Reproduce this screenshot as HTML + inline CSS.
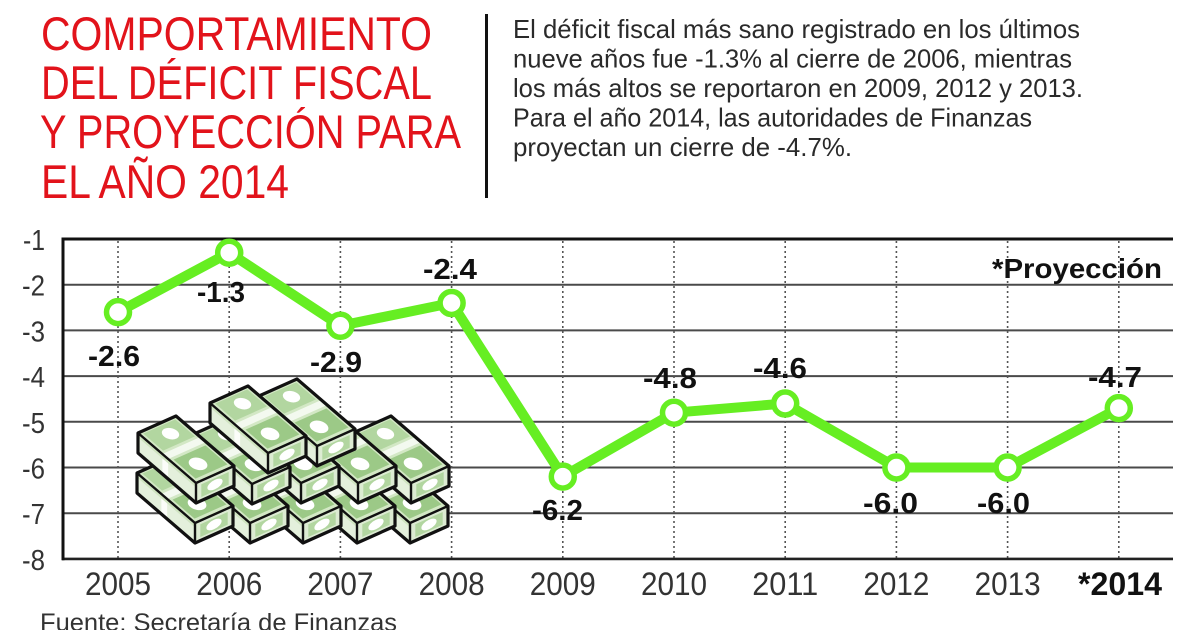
<!DOCTYPE html>
<html>
<head>
<meta charset="utf-8">
<style>
  html,body{margin:0;padding:0;background:#fff;}
  body{width:1200px;height:630px;overflow:hidden;}
  svg{display:block;}
  text{font-family:"Liberation Sans", sans-serif;}
</style>
</head>
<body>
<svg width="1200" height="630" viewBox="0 0 1200 630" xmlns="http://www.w3.org/2000/svg">
  <defs>
    <g id="b">
      <!-- top face: P0=(0,0), u=(38,-17), v=(58,50), h=20 -->
      <polygon points="0,0 38,-17 96,33 58,50" fill="#d3e8c5"/>
      <g transform="matrix(0.58 0.50 0.38 -0.17 0 0)">
        <rect x="4" y="8" width="34" height="84" fill="#b2d6a0"/>
        <ellipse cx="20" cy="55" rx="10" ry="17" fill="#ffffff"/>
        <rect x="42" y="0" width="10" height="100" fill="#f3f9ef"/>
        <rect x="56" y="8" width="38" height="84" fill="#9cc987"/>
        <ellipse cx="76" cy="42" rx="11" ry="18" fill="#ffffff"/>
      </g>
      <!-- front long face -->
      <polygon points="0,0 58,50 58,70 0,20" fill="#e4f0dc"/>
      <g transform="matrix(0.58 0.50 0 0.20 0 0)">
        <rect x="42" y="0" width="10" height="100" fill="#fbfdf9"/>
        <rect x="0" y="0" width="100" height="22" fill="#cfe4c0"/>
      </g>
      <!-- end face -->
      <polygon points="58,50 96,33 96,53 58,70" fill="#dcebd2"/>
      <g transform="matrix(0.38 -0.17 0 0.20 58 50)">
        <rect x="14" y="18" width="72" height="64" fill="#b2d6a0"/>
        <ellipse cx="50" cy="50" rx="20" ry="24" fill="#ffffff"/>
      </g>
      <!-- outlines -->
      <polygon points="0,0 38,-17 96,33 96,53 58,70 0,20" fill="none" stroke="#111" stroke-width="3.2" stroke-linejoin="round"/>
      <polyline points="0,0 58,50 96,33" fill="none" stroke="#111" stroke-width="2.4" stroke-linejoin="round"/>
      <line x1="58" y1="50" x2="58" y2="70" stroke="#111" stroke-width="2.4"/>
    </g>
  </defs>

  <rect x="0" y="0" width="1200" height="630" fill="#ffffff"/>

  <!-- Title -->
  <g fill="#e2131b" font-size="47">
    <text x="41" y="50" textLength="391" lengthAdjust="spacingAndGlyphs">COMPORTAMIENTO</text>
    <text x="41" y="99" textLength="391" lengthAdjust="spacingAndGlyphs">DEL DÉFICIT FISCAL</text>
    <text x="40" y="148" textLength="421" lengthAdjust="spacingAndGlyphs">Y PROYECCIÓN PARA</text>
    <text x="41" y="198" textLength="248" lengthAdjust="spacingAndGlyphs">EL AÑO 2014</text>
  </g>

  <!-- separator -->
  <rect x="485" y="14" width="3" height="184" fill="#111"/>

  <!-- Paragraph -->
  <g fill="#2a2a2a" font-size="26">
    <text x="513" y="38" textLength="567" lengthAdjust="spacingAndGlyphs">El déficit fiscal más sano registrado en los últimos</text>
    <text x="513" y="67.5" textLength="559" lengthAdjust="spacingAndGlyphs">nueve años fue -1.3% al cierre de 2006, mientras</text>
    <text x="513" y="97" textLength="570" lengthAdjust="spacingAndGlyphs">los más altos se reportaron en 2009, 2012 y 2013.</text>
    <text x="513" y="126.5" textLength="519" lengthAdjust="spacingAndGlyphs">Para el año 2014, las autoridades de Finanzas</text>
    <text x="513" y="156" textLength="339" lengthAdjust="spacingAndGlyphs">proyectan un cierre de -4.7%.</text>
  </g>

  <!-- Gridlines -->
  <g stroke="#4a4a4a" stroke-width="2">
    <line x1="63" y1="284.7" x2="1173" y2="284.7"/>
    <line x1="63" y1="330.4" x2="1173" y2="330.4"/>
    <line x1="63" y1="376.1" x2="1173" y2="376.1"/>
    <line x1="63" y1="421.8" x2="1173" y2="421.8"/>
    <line x1="63" y1="467.5" x2="1173" y2="467.5"/>
    <line x1="63" y1="513.2" x2="1173" y2="513.2"/>
  </g>

  <!-- dotted verticals -->
  <g stroke="#555" stroke-width="1.6" stroke-dasharray="2 3">
    <line x1="118" y1="241" x2="118" y2="558"/>
    <line x1="229.2" y1="241" x2="229.2" y2="558"/>
    <line x1="340.4" y1="241" x2="340.4" y2="558"/>
    <line x1="451.6" y1="241" x2="451.6" y2="558"/>
    <line x1="562.8" y1="241" x2="562.8" y2="558"/>
    <line x1="674" y1="241" x2="674" y2="558"/>
    <line x1="785.2" y1="241" x2="785.2" y2="558"/>
    <line x1="896.4" y1="241" x2="896.4" y2="558"/>
    <line x1="1007.6" y1="241" x2="1007.6" y2="558"/>
    <line x1="1118.8" y1="241" x2="1118.8" y2="558"/>
  </g>

  <!-- top/bottom/left axis -->
  <line x1="62" y1="239" x2="1173" y2="239" stroke="#111" stroke-width="3"/>
  <line x1="62" y1="558.9" x2="1173" y2="558.9" stroke="#222" stroke-width="2.6"/>
  <line x1="63" y1="237.5" x2="63" y2="560.3" stroke="#111" stroke-width="3"/>

  <!-- money: bottom layer (right to left) -->
  <use href="#b" x="352" y="473"/>
  <use href="#b" x="299" y="473"/>
  <use href="#b" x="245" y="473"/>
  <use href="#b" x="192" y="473"/>
  <use href="#b" x="137" y="473"/>
  <!-- middle layer -->
  <use href="#b" x="353" y="433"/>
  <use href="#b" x="300" y="433"/>
  <use href="#b" x="243" y="433"/>
  <use href="#b" x="194" y="434"/>
  <use href="#b" x="138" y="433"/>
  <!-- top layer -->
  <use href="#b" x="259" y="396"/>
  <use href="#b" x="210" y="403"/>

  <!-- Y labels -->
  <g fill="#333" font-size="29">
    <text x="23" y="250" textLength="22" lengthAdjust="spacingAndGlyphs">-1</text>
    <text x="22" y="295.7" textLength="23" lengthAdjust="spacingAndGlyphs">-2</text>
    <text x="22" y="341.4" textLength="23" lengthAdjust="spacingAndGlyphs">-3</text>
    <text x="22" y="387.1" textLength="23" lengthAdjust="spacingAndGlyphs">-4</text>
    <text x="22" y="432.8" textLength="23" lengthAdjust="spacingAndGlyphs">-5</text>
    <text x="22" y="478.5" textLength="23" lengthAdjust="spacingAndGlyphs">-6</text>
    <text x="22" y="524.2" textLength="23" lengthAdjust="spacingAndGlyphs">-7</text>
    <text x="22" y="569.9" textLength="23" lengthAdjust="spacingAndGlyphs">-8</text>
  </g>

  <!-- X labels -->
  <g fill="#333" font-size="32">
    <text x="85" y="595" textLength="66" lengthAdjust="spacingAndGlyphs">2005</text>
    <text x="196.2" y="595" textLength="66" lengthAdjust="spacingAndGlyphs">2006</text>
    <text x="307.4" y="595" textLength="66" lengthAdjust="spacingAndGlyphs">2007</text>
    <text x="418.6" y="595" textLength="66" lengthAdjust="spacingAndGlyphs">2008</text>
    <text x="529.8" y="595" textLength="66" lengthAdjust="spacingAndGlyphs">2009</text>
    <text x="641" y="595" textLength="66" lengthAdjust="spacingAndGlyphs">2010</text>
    <text x="752.2" y="595" textLength="66" lengthAdjust="spacingAndGlyphs">2011</text>
    <text x="863.4" y="595" textLength="66" lengthAdjust="spacingAndGlyphs">2012</text>
    <text x="974.6" y="595" textLength="66" lengthAdjust="spacingAndGlyphs">2013</text>
  </g>
  <text x="1078" y="595" font-size="32" font-weight="bold" fill="#111" textLength="84" lengthAdjust="spacingAndGlyphs">*2014</text>

  <!-- Proyeccion note -->
  <text x="992" y="278" font-size="28" font-weight="bold" fill="#111" textLength="170" lengthAdjust="spacingAndGlyphs">*Proyección</text>

  <!-- Series line -->
  <polyline points="118,312.1 229.2,252.7 340.4,325.8 451.6,303 562.8,476.6 674,412.7 785.2,403.5 896.4,467.5 1007.6,467.5 1118.8,408.1"
            fill="none" stroke="#66ee22" stroke-width="10" stroke-linejoin="round" stroke-linecap="round"/>
  <g fill="#ffffff" stroke="#66ee22" stroke-width="5.5">
    <circle cx="118" cy="312.1" r="11.5"/>
    <circle cx="229.2" cy="252.7" r="11.5"/>
    <circle cx="340.4" cy="325.8" r="11.5"/>
    <circle cx="451.6" cy="303" r="11.5"/>
    <circle cx="562.8" cy="476.6" r="11.5"/>
    <circle cx="674" cy="412.7" r="11.5"/>
    <circle cx="785.2" cy="403.5" r="11.5"/>
    <circle cx="896.4" cy="467.5" r="11.5"/>
    <circle cx="1007.6" cy="467.5" r="11.5"/>
    <circle cx="1118.8" cy="408.1" r="11.5"/>
  </g>

  <!-- Value labels -->
  <g fill="#111" font-size="29" font-weight="bold">
    <text x="88" y="366" textLength="52" lengthAdjust="spacingAndGlyphs">-2.6</text>
    <text x="197" y="302" textLength="48" lengthAdjust="spacingAndGlyphs">-1.3</text>
    <text x="310" y="372" textLength="52" lengthAdjust="spacingAndGlyphs">-2.9</text>
    <text x="423" y="279" textLength="54" lengthAdjust="spacingAndGlyphs">-2.4</text>
    <text x="532" y="520" textLength="51" lengthAdjust="spacingAndGlyphs">-6.2</text>
    <text x="643" y="388" textLength="54" lengthAdjust="spacingAndGlyphs">-4.8</text>
    <text x="753" y="378" textLength="54" lengthAdjust="spacingAndGlyphs">-4.6</text>
    <text x="863" y="513" textLength="55" lengthAdjust="spacingAndGlyphs">-6.0</text>
    <text x="977" y="513" textLength="53" lengthAdjust="spacingAndGlyphs">-6.0</text>
    <text x="1088" y="387" textLength="54" lengthAdjust="spacingAndGlyphs">-4.7</text>
  </g>

  <!-- Source -->
  <text x="40" y="631" font-size="25" fill="#333" textLength="357" lengthAdjust="spacingAndGlyphs">Fuente: Secretaría de Finanzas</text>
</svg>
</body>
</html>
